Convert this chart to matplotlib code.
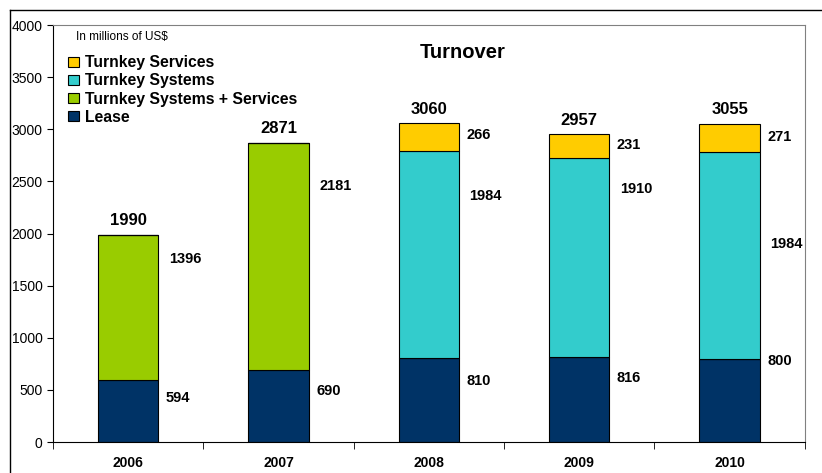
import numpy as np
import matplotlib.pyplot as plt
from matplotlib.lines import Line2D

plt.rcParams['font.family'] = ['Liberation Sans', 'DejaVu Sans']

# Datos
anios = ['2006', '2007', '2008', '2009', '2010']
lease = [594, 690, 810, 816, 800]
sys_serv = [1396, 2181, 0, 0, 0]
systems = [0, 0, 1984, 1910, 1984]
services = [0, 0, 266, 231, 271]
totales = [1990, 2871, 3060, 2957, 3055]

# altura (en unidades de datos) de las etiquetas de cada tramo
etq_lease = [423, 490, 587, 615, 779]
etq_medio = [1760, 2452, 2356, 2423, 1904]
etq_serv = [None, None, 2942, 2846, 2923]

c_lease = '#003366'
c_ss = '#99CC00'
c_sys = '#33CCCC'
c_serv = '#FFCC00'

fig = plt.figure(figsize=(8.22, 4.73), dpi=100)
ax = fig.add_axes([0.0645, 0.0655, 0.9145, 0.8815])

x = np.arange(len(anios))
w = 0.4
lease = np.array(lease)
sys_serv = np.array(sys_serv)
systems = np.array(systems)
services = np.array(services)

ax.bar(x, lease, w, color=c_lease, edgecolor='black', linewidth=0.8, label='Lease')
ax.bar(x, sys_serv, w, bottom=lease, color=c_ss, edgecolor='black', linewidth=0.8,
       label='Turnkey Systems + Services')
ax.bar(x, systems, w, bottom=lease + sys_serv, color=c_sys, edgecolor='black',
       linewidth=0.8, label='Turnkey Systems')
ax.bar(x, services, w, bottom=lease + sys_serv + systems, color=c_serv,
       edgecolor='black', linewidth=0.8, label='Turnkey Services')

# etiquetas
for i in range(len(anios)):
    xl = x[i] + w / 2 + 0.05
    ax.text(xl, etq_lease[i], str(lease[i]), fontsize=10.5, fontweight='bold', va='center')
    medio = sys_serv[i] if sys_serv[i] > 0 else systems[i]
    ax.text(xl + 0.02, etq_medio[i], str(medio), fontsize=10.5, fontweight='bold', va='center')
    if etq_serv[i] is not None:
        ax.text(xl, etq_serv[i], str(services[i]), fontsize=10.5, fontweight='bold', va='center')
    ax.text(x[i], totales[i] + 60, str(totales[i]), fontsize=12, fontweight='bold',
            ha='center', va='bottom')

ax.set_xlim(-0.5, 4.5)
ax.set_ylim(0, 4000)
ax.set_yticks(np.arange(0, 4001, 500))
ax.set_xticks(x)
ax.set_xticklabels(anios, fontweight='bold', fontsize=10)
ax.set_xticks(np.arange(-0.5, 4.6, 1), minor=True)
ax.tick_params(axis='x', which='major', length=0, pad=10)
ax.tick_params(axis='x', which='minor', length=5, direction='out')
ax.tick_params(axis='y', labelsize=10, length=4, direction='out')

ax.spines['top'].set_color('#808080')
ax.spines['right'].set_color('#808080')
ax.spines['left'].set_color('black')
ax.spines['bottom'].set_color('black')

ax.text(0.545, 0.935, 'Turnover', transform=ax.transAxes, fontsize=14.5,
        fontweight='bold', ha='center', va='center')
ax.text(0.03, 0.985, 'In millions of US$', transform=ax.transAxes, fontsize=8.5,
        ha='left', va='top')

h, l = ax.get_legend_handles_labels()
leg = ax.legend(h[::-1], l[::-1], loc='upper left', bbox_to_anchor=(0.008, 0.95),
                frameon=False, prop={'weight': 'bold', 'size': 11.3},
                handlelength=0.65, handleheight=0.65, handletextpad=0.4,
                labelspacing=0.2, borderaxespad=0.2)

# marco exterior
fig.add_artist(Line2D([10 / 822, 1], [1 - 10 / 473, 1 - 10 / 473], color='black', lw=1))
fig.add_artist(Line2D([10 / 822, 10 / 822], [0, 1 - 10 / 473], color='black', lw=1))

plt.savefig('out.png', dpi=100)
